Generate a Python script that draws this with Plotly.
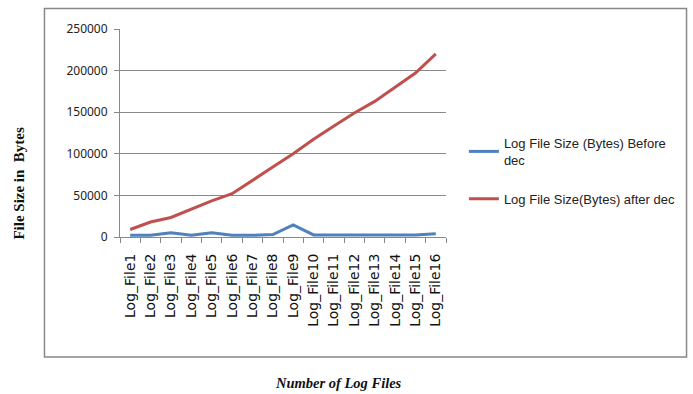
import plotly.graph_objects as go

# Log file labels and sizes in bytes
log_files = [f"Log_File{i}" for i in range(1, 17)]
size_before = [2000, 2000, 5000, 2000, 5000, 2000, 2000, 3000, 14500, 2500,
               2500, 2500, 2500, 2500, 2500, 4000]
size_after = [9000, 18000, 23500, 33500, 43500, 52000, 68500, 84000, 100000, 117500,
              133500, 149000, 163000, 179500, 197000, 220000]
y_ticks = [0, 50000, 100000, 150000, 200000, 250000]

BLUE = "#4F81BD"
RED = "#C0504D"
W, H = 693, 394
L, R, T, B = 120, 448, 29, 237  # plot area in pixels

fig = go.Figure()
fig.add_trace(go.Scatter(x=log_files, y=size_before, mode="lines",
                         name="Log File Size (Bytes) Before<br>dec",
                         legendgroup="before",
                         line=dict(color=BLUE, width=3)))
fig.add_trace(go.Scatter(x=log_files, y=size_after, mode="lines",
                         name="Log File Size(Bytes) after dec",
                         legendgroup="after",
                         line=dict(color=RED, width=3)))

pw, ph = R - L, B - T
def px(x):
    return (x - L) / pw
def py(y):
    return (B - y) / ph

fig.update_layout(
    width=W, height=H,
    margin=dict(l=L, r=W - R, t=T, b=H - B),
    paper_bgcolor="white", plot_bgcolor="white",
    showlegend=True,
    legend=dict(x=px(466), y=py(128), xanchor="left", yanchor="top",
                font=dict(family="Liberation Sans Narrow, Liberation Sans", size=13, color="#222"),
                tracegroupgap=19, itemwidth=30, bgcolor="rgba(0,0,0,0)"),
    xaxis=dict(type="category", showgrid=False, showline=True, linecolor="#888",
               linewidth=1, ticks="outside", tickson="boundaries", ticklen=5,
               tickcolor="#888", tickangle=-90, ticklabelstandoff=10,
               tickfont=dict(family="DejaVu Sans", size=14, color="#111"),
               range=[-0.5, 15.5]),
    yaxis=dict(range=[0, 250000], tickvals=y_ticks,
               ticktext=[str(v) for v in y_ticks],
               showgrid=True, gridcolor="#8a8a8a",
               gridwidth=1, showline=True, linecolor="#888", linewidth=1,
               ticks="outside", ticklen=5, tickcolor="#888", zeroline=False,
               tickfont=dict(family="Noto Sans", size=12, color="#222"),
               ticklabelstandoff=4),
    shapes=[dict(type="rect", xref="paper", yref="paper",
                 x0=px(44), x1=px(690), y0=py(357), y1=py(8.5),
                 line=dict(color="#888", width=1.5), layer="below")],
    annotations=[
        dict(text="<b>File Size in  Bytes</b>", xref="paper", yref="paper",
             x=px(18), y=py(183), xanchor="center", yanchor="middle",
             textangle=-90, showarrow=False,
             font=dict(family="Liberation Serif", size=15, color="#111")),
        dict(text="<b><i>Number of Log Files</i></b>", xref="paper", yref="paper",
             x=px(340), y=py(383), xanchor="center", yanchor="middle",
             showarrow=False,
             font=dict(family="Liberation Serif", size=14.5, color="#111")),
    ],
)

fig.write_html("out.html")
